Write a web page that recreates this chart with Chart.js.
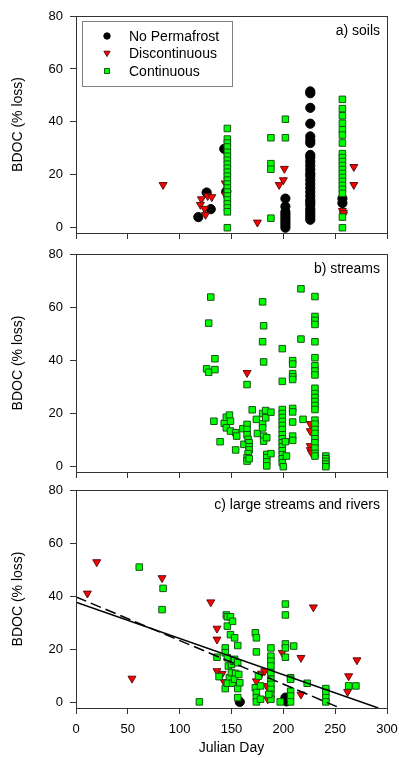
<!DOCTYPE html>
<html>
<head>
<meta charset="utf-8">
<script src="https://cdn.jsdelivr.net/npm/chart.js@4.4.1/dist/chart.umd.min.js"></script>
<style>
  html, body { margin: 0; padding: 0; background: #fff; }
  #wrap { position: relative; width: 399px; height: 758px; }
  canvas { position: absolute; left: 0; }
</style>
</head>
<body>
<div id="wrap">
  <canvas id="soils" width="399" height="240" style="top:0"></canvas>
  <canvas id="streams" width="399" height="240" style="top:240px"></canvas>
  <canvas id="rivers" width="399" height="278" style="top:480px"></canvas>
</div>
<script>
/* ---------------- DATA ---------------- */
const xTicks = [0, 50, 100, 150, 200, 250, 300];
const yTicks = [0, 20, 40, 60, 80];
const seriesNames = ["No Permafrost", "Discontinuous", "Continuous"];
const panelLabels = ["a) soils", "b) streams", "c) large streams and rivers"];

// a) soils  [julian day, BDOC % loss]
const soilNoPerm = [[118,4],[126,13.3],[130,7],[143,29.8],[145,13.7],
  [202,11],[202,8],[202,6],[202,5],[202,4],[202,3],[202,2],[202,1],[202,0],
  [226,51.5],[226,50.8],[226,45.3],[226,39.3],[226,34.5],[226,33],[226,32],[226,27.5],[226,26.5],
  [226,25],[226,23.5],[226,22],[226,20.5],[226,19.5],[226,18],[226,16.5],[226,15],[226,13.5],
  [226,12],[226,10.5],[226,9.5],[226,8.5],[226,7],[226,6],[226,5],[226,4],[226,3],
  [257,9.3],[257,11]];
const soilDisc = [[84,16.2],[120,8.7],[121,10.8],[124,7.2],[125,4.9],[127,12],[131,11.6],
  [144,16.8],[144,12.5],[175,2],[196,16.2],[200,18],[201,22.3],[257,6.4],[258,4.9],[258,5.6],
  [268,23],[268,16.2]];
const soilCont = [[146,0],[146,37.5],[146,33.5],[146,32],[146,30.5],[146,28.5],[146,27],[146,25.5],
  [146,24],[146,22.5],[146,21],[146,19.5],[146,18],[146,16.5],[146,15],[146,13.5],[146,12],
  [146,10.5],[146,9],[146,7.5],[146,6],
  [188,34],[188,24.2],[188,22.1],[188,3.6],[202,41],[202,34],
  [257,48.5],[257,45],[257,42.3],[257,39.5],[257,37],[257,35],[257,32],[257,28],[257,26.5],
  [257,25],[257,23.5],[257,22],[257,20.5],[257,19],[257,17.5],[257,16],[257,14.5],[257,13],
  [257,4],[257,0]];

// b) streams
const streamDisc = [[165,35.3],[226,16.1],[226,13.4],[226,7.8],[226,6.3],[227,5.3]];
const streamCont = [[130,63.8],[128,54],[126,36.8],[128,35.5],[134,40.6],[134,36.5],[133,17.1],
  [139,9.4],[143,16.3],[145,18.6],[145,14.6],[148,19.4],[149,17.1],[149,13.4],[154,12.8],
  [155,11.5],[154,6.3],[161,14.3],[162,8.4],[165,30.9],[165,15.9],[165,14],[165,12],[166,10.3],
  [167,9],[167,7.5],[167,6.3],[166,4.9],[165,3.4],[165,2.1],[167,3],[170,21.4],[174,17.8],
  [175,12.5],[180,62],[181,53],[180,47],[181,39.4],[180,20],[180,16.1],[180,14.6],[181,11.5],
  [181,9.6],[183,21.1],[183,18.4],[184,10.9],[184,4.6],[184,3.4],[184,1.8],[184,0.3],[188,20.5],
  [188,4.9],[199,44.4],[199,32.1],[199,21.5],[199,20],[199,18.5],[199,17],[199,15.5],[199,14],
  [199,12],[199,10.5],[199,9],[199,7.5],[199,6],[199,4.5],[199,3],[199,1.5],[200,0],[202,9.4],
  [203,4],[209,39.9],[209,38.6],[209,35],[209,33.8],[209,32.8],[209,21.9],[209,20.6],[209,16.8],
  [209,11.5],[209,9.9],[217,66.9],[217,48],[219,17.8],
  [230.5,64],[230.5,56.5],[230.5,55],[230.5,53.5],[230.5,47],[230.5,41],[230.5,38],[230.5,36],
  [230.5,34.5],[230.5,29.5],[230.5,27.5],[230.5,26],[230.5,24.5],[230.5,23],[230.5,21.5],
  [230.5,17.5],[230.5,16],[230.5,14],[230.5,12.5],[230.5,10.5],[230.5,9],[230.5,7],[230.5,5],
  [230.5,4],[241,4],[241,3],[241,2],[241,1],[241,0]];

// c) large streams and rivers
const riverNoPerm = [[158,0.3],[202,1.9],[203,0.5]];
const riverDisc = [[11,41.1],[20,52.9],[54,9.1],[83,46.9],[130,37.8],[136,27.9],[136,23.8],
  [136,11.9],[141,10.9],[143,7.8],[174,8.1],[179,11],[182,11.9],[184,6.3],[185,1.3],[199,18.8],
  [217,16.9],[217,3.1],[229,35.9],[263,10],[262,4.1],[271,16]];
const riverCont = [[61,51],[84,43],[83,35],[119,0.3],[136,17.1],[138,9.8],[145,33],[146,32.3],
  [149,32.3],[146,28.8],[151,30.6],[149,25.6],[153,24.4],[156,21.5],[144,20.6],[144,18.8],
  [146,16.9],[147,13.8],[150,14.4],[152,15.6],[153,16.3],[156,15],[148,9.4],[150,11.3],[154,11],
  [144,5.3],[146,7.3],[151,7.3],[153,8.8],[156,5.3],[158,7.5],[157,10.6],[156,1.9],[173,26.3],
  [174,24.4],[174,19.1],[173,5.6],[174,3.8],[174,1.9],[174,0.3],[176,10],[178,6.3],[178,1.3],
  [188,20.6],[188,17.5],[188,15.6],[188,13.8],[188,11.3],[188,8.8],[188,6.9],[188,5],[188,3.1],
  [188,1.3],[186,3.1],[197,0.3],[202,37.1],[202,33],[202,22.1],[202,20.6],[202,17.1],[207,9.4],
  [207,8.8],[207,4.3],[207,2.5],[207,0.3],[210,21.3],[223,7.3],[241,5.3],[241,3.8],[241,1.9],
  [241,0.3],[263,6.3],[270,6.3]];
// regression lines (end points)
const fitSolid = [[0,37.8],[291.6,-2]];
const fitDashed = [[0,39.8],[254.7,-2]];

/* ---------------- STYLE ---------------- */
const FONT = "'Liberation Sans', Arial, sans-serif";
const AXIS = "#333";
const toXY = arr => arr.map(p => ({ x: p[0], y: p[1] }));

const styles = {
  noPerm: { pointStyle: "circle", pointRadius: 4.6, backgroundColor: "#000", borderColor: "#000", borderWidth: 1 },
  disc: { pointStyle: "triangle", rotation: 180, pointRadius: 4.6, backgroundColor: "#ff0000", borderColor: "#5a1010", borderWidth: 1 },
  cont: { pointStyle: "rect", pointRadius: 4.6, backgroundColor: "#00ff00", borderColor: "#145214", borderWidth: 1 }
};

function pts(arr, st, order) {
  return { data: toXY(arr), ...st, pointBorderWidth: st.borderWidth, order };
}

/* ---------------- PLUGINS ---------------- */
const framePlugin = {
  id: "frame",
  afterDraw(chart) {
    const { ctx, chartArea: a } = chart;
    ctx.save();
    ctx.strokeStyle = AXIS;
    ctx.lineWidth = 1;
    ctx.strokeRect(Math.round(a.left) + 0.5, Math.round(a.top) + 0.5,
      Math.round(a.right - a.left), Math.round(a.bottom - a.top));
    // panel label
    ctx.fillStyle = "#000";
    ctx.font = "14px " + FONT;
    ctx.textAlign = "right";
    ctx.textBaseline = "middle";
    ctx.fillText(chart.options.plugins.frame.label, a.right - 7, a.top + 15);
    ctx.restore();
  }
};

const boxLegend = {
  id: "boxLegend",
  afterDraw(chart) {
    const o = chart.options.plugins.boxLegend;
    if (!o || !o.show) return;
    const ctx = chart.ctx;
    ctx.save();
    ctx.strokeStyle = "#808080";
    ctx.lineWidth = 1;
    ctx.strokeRect(82.5, 21.5, 150, 65);
    const marks = [
      { st: styles.noPerm, r: 3.2 },
      { st: styles.disc, r: 3.6 },
      { st: styles.cont, r: 3.6 }
    ];
    const rows = [36, 53, 71];
    ctx.font = "14px " + FONT;
    ctx.textBaseline = "middle";
    ctx.textAlign = "left";
    marks.forEach((m, i) => {
      ctx.fillStyle = m.st.backgroundColor;
      ctx.strokeStyle = m.st.borderColor;
      ctx.lineWidth = 1;
      Chart.helpers.drawPoint(ctx, { pointStyle: m.st.pointStyle, rotation: m.st.rotation || 0, radius: m.r, borderWidth: 1 }, 107, rows[i]);
      ctx.fillStyle = "#000";
      ctx.fillText(seriesNames[i], 129, rows[i] + 1);
    });
    ctx.restore();
  }
};

/* ---------------- CHART BUILDER ---------------- */
function makeChart(id, datasets, label, padTop, xHeight, showX, legend) {
  new Chart(document.getElementById(id), {
    type: "scatter",
    data: { datasets },
    options: {
      responsive: false,
      animation: false,
      events: [],
      layout: { padding: { top: padTop, right: 12, left: 0, bottom: 0 } },
      plugins: {
        legend: { display: false },
        tooltip: { enabled: false },
        frame: { label },
        boxLegend: { show: legend }
      },
      scales: {
        x: {
          type: "linear", min: 0, max: 300,
          afterBuildTicks: s => { s.ticks = xTicks.map(v => ({ value: v })); },
          // fixed axis box so all three panels line up
          afterFit: s => { s.height = xHeight; s.paddingLeft = 0; s.paddingRight = 0; },
          grid: { drawOnChartArea: false, tickLength: 6, color: AXIS },
          border: { color: AXIS },
          ticks: { display: showX, color: "#000", padding: 8, maxRotation: 0, font: { family: FONT, size: 13 } },
          title: { display: showX, text: "Julian Day", color: "#000", font: { family: FONT, size: 14 }, padding: { top: 0, bottom: 1 } }
        },
        y: {
          type: "linear", min: -2, max: 80,
          afterBuildTicks: s => { s.ticks = yTicks.map(v => ({ value: v })); },
          afterFit: s => { s.width = 76; s.paddingTop = 0; s.paddingBottom = 0; },
          grid: { drawOnChartArea: false, tickLength: 6, color: AXIS },
          border: { color: AXIS },
          ticks: { color: "#000", padding: 7, font: { family: FONT, size: 13 } },
          title: { display: true, text: "BDOC (% loss)", color: "#000", font: { family: FONT, size: 14 }, padding: { top: 10, bottom: 0 } }
        }
      }
    },
    plugins: [framePlugin, boxLegend]
  });
}

makeChart("soils", [
  pts(soilCont, styles.cont, 0),
  pts(soilDisc, styles.disc, 1),
  pts(soilNoPerm, styles.noPerm, 2)
], panelLabels[0], 16, 7, false, true);

makeChart("streams", [
  pts(streamCont, styles.cont, 0),
  pts(streamDisc, styles.disc, 1)
], panelLabels[1], 14, 8, false, false);

makeChart("rivers", [
  { data: toXY(fitSolid), showLine: true, pointRadius: 0, borderColor: "#000", borderWidth: 1.5, order: -1 },
  { data: toXY(fitDashed), showLine: true, pointRadius: 0, borderColor: "#000", borderWidth: 1.5, borderDash: [11, 5], order: -1 },
  pts(riverCont, styles.cont, 0),
  pts(riverDisc, styles.disc, 1),
  pts(riverNoPerm, styles.noPerm, 2)
], panelLabels[2], 10, 50, true, false);
</script>
</body>
</html>
